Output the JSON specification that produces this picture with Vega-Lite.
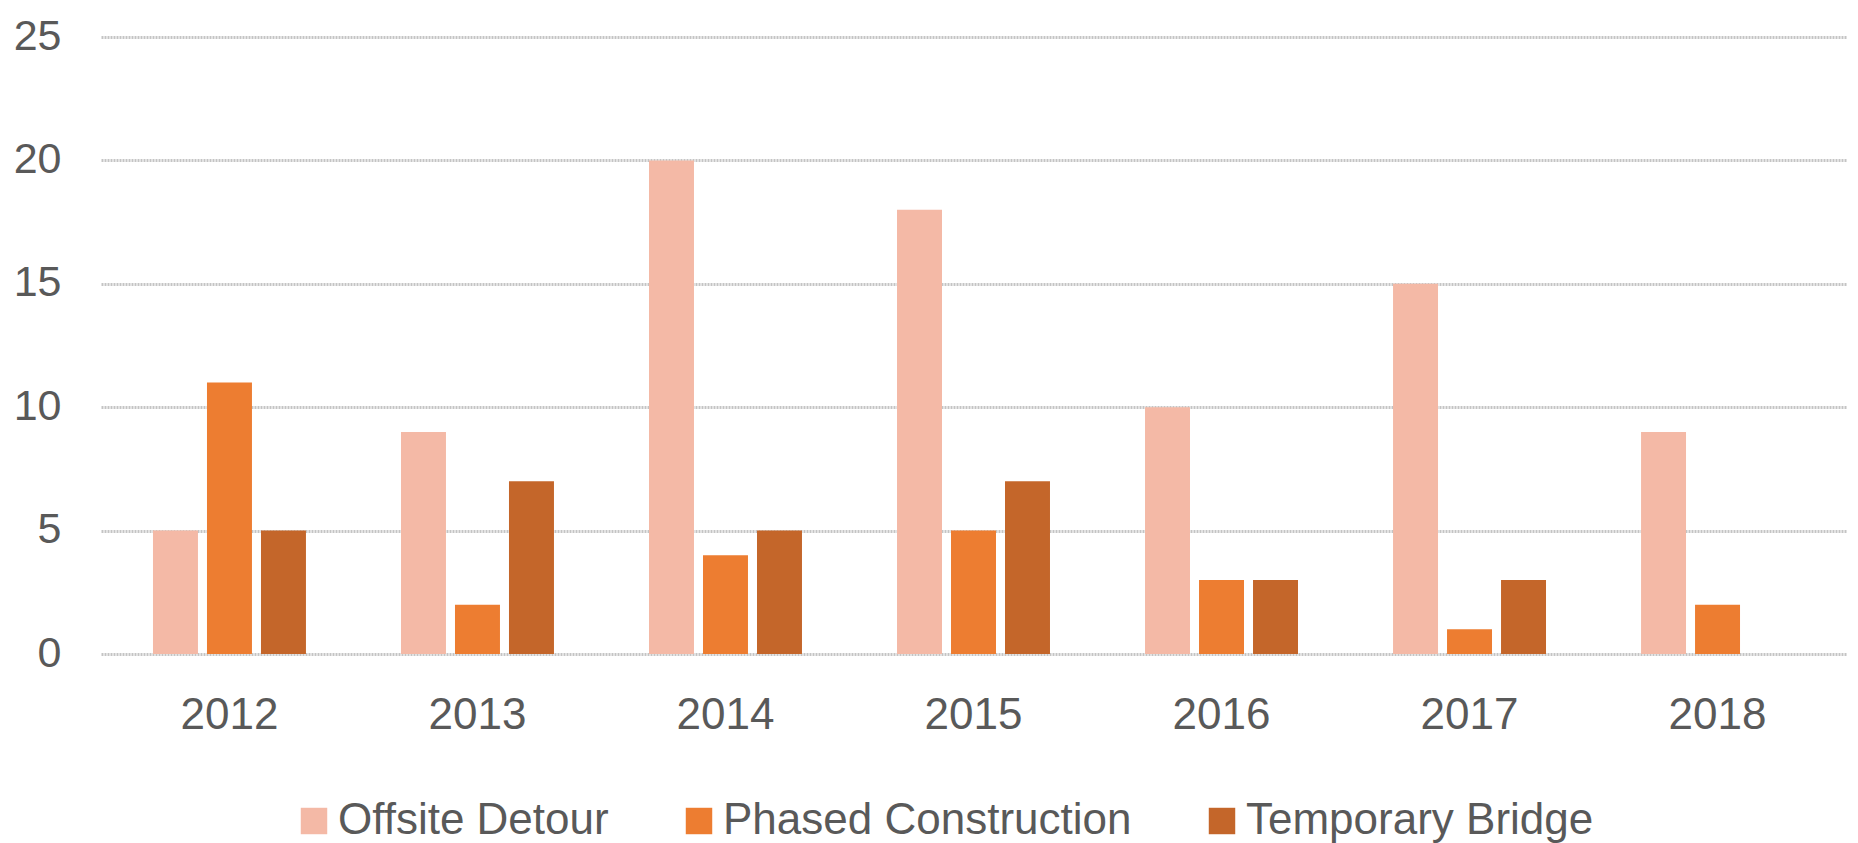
{
  "$schema": "https://vega.github.io/schema/vega-lite/v6.json",
  "autosize": {"type": "none"},
  "padding": {"left": 101, "top": 37, "right": 12, "bottom": 189},
  "width": 1745,
  "height": 617,
  "background": "white",
  "config": {
    "view": {"stroke": null},
    "font": "Liberation Sans"
  },
  "data": {
    "values": [
      {"year": "2012", "type": "Offsite Detour", "value": 5},
      {"year": "2012", "type": "Phased Construction", "value": 11},
      {"year": "2012", "type": "Temporary Bridge", "value": 5},
      {"year": "2013", "type": "Offsite Detour", "value": 9},
      {"year": "2013", "type": "Phased Construction", "value": 2},
      {"year": "2013", "type": "Temporary Bridge", "value": 7},
      {"year": "2014", "type": "Offsite Detour", "value": 20},
      {"year": "2014", "type": "Phased Construction", "value": 4},
      {"year": "2014", "type": "Temporary Bridge", "value": 5},
      {"year": "2015", "type": "Offsite Detour", "value": 18},
      {"year": "2015", "type": "Phased Construction", "value": 5},
      {"year": "2015", "type": "Temporary Bridge", "value": 7},
      {"year": "2016", "type": "Offsite Detour", "value": 10},
      {"year": "2016", "type": "Phased Construction", "value": 3},
      {"year": "2016", "type": "Temporary Bridge", "value": 3},
      {"year": "2017", "type": "Offsite Detour", "value": 15},
      {"year": "2017", "type": "Phased Construction", "value": 1},
      {"year": "2017", "type": "Temporary Bridge", "value": 3},
      {"year": "2018", "type": "Offsite Detour", "value": 9},
      {"year": "2018", "type": "Phased Construction", "value": 2}
    ]
  },
  "mark": {"type": "bar"},
  "encoding": {
    "x": {
      "field": "year",
      "type": "nominal",
      "scale": {"paddingInner": 0, "paddingOuter": 0.018},
      "axis": {
        "title": null,
        "labelAngle": 0,
        "ticks": false,
        "domain": false,
        "grid": false,
        "labelFontSize": 44,
        "labelColor": "#595959",
        "labelPadding": 39
      }
    },
    "xOffset": {
      "field": "type",
      "type": "nominal",
      "scale": {"domain": ["Offsite Detour", "Phased Construction", "Temporary Bridge"], "paddingInner": 0.167, "paddingOuter": 0.88}
    },
    "y": {
      "field": "value",
      "type": "quantitative",
      "scale": {"domain": [0, 25], "nice": false},
      "axis": {
        "title": null,
        "values": [0, 5, 10, 15, 20, 25],
        "ticks": false,
        "domain": false,
        "grid": true,
        "gridColor": "#C4C4C4",
        "gridWidth": 3,
        "gridDash": [2, 1],
        "labelFontSize": 43,
        "labelColor": "#595959",
        "labelPadding": 40,
        "labelOffset": -1
      }
    },
    "color": {
      "field": "type",
      "type": "nominal",
      "scale": {
        "domain": ["Offsite Detour", "Phased Construction", "Temporary Bridge"],
        "range": ["#F4B9A6", "#ED7D31", "#C4662A"]
      },
      "legend": {
        "title": null,
        "orient": "none",
        "direction": "horizontal",
        "legendX": 191,
        "legendY": 762,
        "symbolType": "square",
        "symbolSize": 700,
        "symbolStrokeWidth": 0,
        "labelFontSize": 44,
        "labelColor": "#595959",
        "labelLimit": 0,
        "labelOffset": 2,
        "columnPadding": 68
      }
    }
  }
}
